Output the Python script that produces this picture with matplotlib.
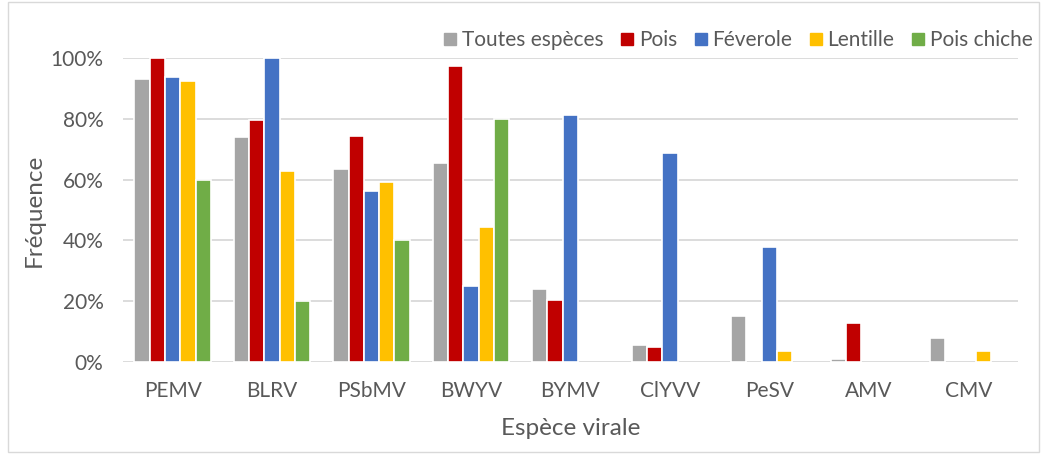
import numpy as np
import matplotlib.pyplot as plt
from matplotlib.patches import Rectangle
from matplotlib.lines import Line2D

plt.rcParams['font.family'] = ['Lato', 'DejaVu Sans']

# data (fraction)
virus = ['PEMV', 'BLRV', 'PSbMV', 'BWYV', 'BYMV', 'ClYVV', 'PeSV', 'AMV', 'CMV']
toutes = [0.930, 0.739, 0.635, 0.654, 0.241, 0.056, 0.151, 0.009, 0.080]
pois = [1.000, 0.796, 0.744, 0.974, 0.205, 0.050, 0.0, 0.128, 0.0]
feverole = [0.937, 1.000, 0.563, 0.250, 0.811, 0.687, 0.378, 0.0, 0.0]
lentille = [0.926, 0.629, 0.592, 0.444, 0.0, 0.0, 0.036, 0.0, 0.036]
pois_chiche = [0.60, 0.20, 0.40, 0.80, 0.0, 0.0, 0.0, 0.0, 0.0]

series = [toutes, pois, feverole, lentille, pois_chiche]
names = ['Toutes espèces', 'Pois', 'Féverole', 'Lentille', 'Pois chiche']
colors = ['#a5a5a5', '#c00000', '#4472c4', '#ffc000', '#70ad47']

txt = '#595959'

fig = plt.figure(figsize=(10.41, 4.57), dpi=100)
ax = fig.add_axes([0.118, 0.208, 0.860, 0.665])

x = np.arange(len(virus))
pitch = 0.154
for i, (vals, c) in enumerate(zip(series, colors)):
    vals = np.array(vals)
    keep = vals > 0  # zero bars are not drawn in the original
    ax.bar(x[keep] + (i - 2) * pitch, vals[keep], width=pitch, color=c,
           edgecolor='white', linewidth=1.2, zorder=3)

ax.set_xlim(-0.5, len(virus) - 0.5)
ax.set_ylim(0, 1.0)
ax.set_yticks(np.arange(0, 1.01, 0.2))
ax.set_yticklabels([f'{int(round(v * 100))}%' for v in np.arange(0, 1.01, 0.2)])
ax.set_xticks(x)
ax.set_xticklabels(virus)
ax.tick_params(length=0, labelsize=15, labelcolor=txt)
ax.tick_params(axis='x', pad=14)
ax.tick_params(axis='y', pad=14)
ax.yaxis.grid(True, color='#d9d9d9', linewidth=1.3, zorder=0)
for s in ax.spines.values():
    s.set_visible(False)

ax.set_ylabel('Fréquence', fontsize=17.5, color=txt, labelpad=4)
ax.set_xlabel('Espèce virale', fontsize=17.5, color=txt, labelpad=12)

handles = [Line2D([], [], marker='s', linestyle='', markersize=9, color=c) for c in colors]
fig.legend(handles, names, loc='upper right', bbox_to_anchor=(1.01, 0.975), ncol=5,
           frameon=False, fontsize=15, labelcolor=txt, handletextpad=0.05,
           columnspacing=0.65, handlelength=1.0)

fig.patches.append(Rectangle((0.008, 0.01), 0.99, 0.985, transform=fig.transFigure,
                             fill=False, edgecolor='#d9d9d9', linewidth=1))

fig.savefig('out.png', dpi=100)
